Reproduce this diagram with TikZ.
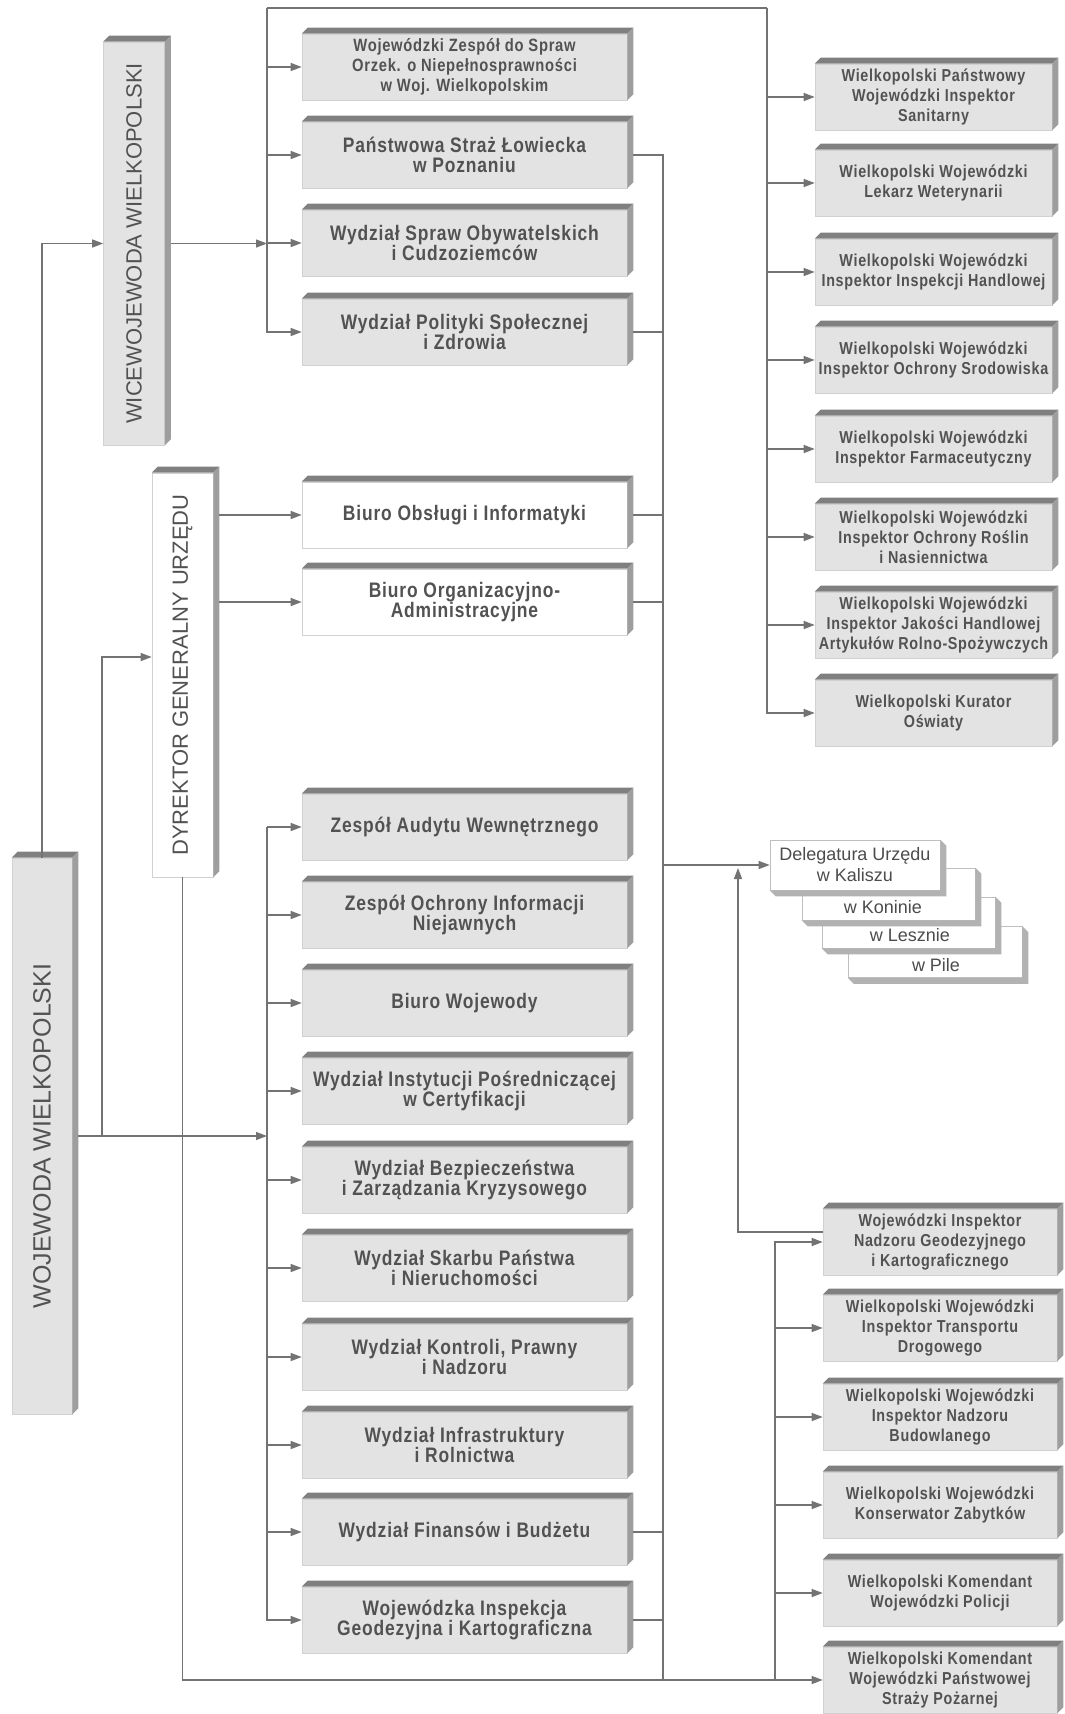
\documentclass[tikz,border=0pt]{standalone}
\usepackage{fontspec}
\setmainfont{Liberation Sans}
\newfontfamily\deptfont[FakeStretch=0.83,LetterSpace=4]{Liberation Sans}
\usepackage{graphicx}
\usepackage{tikz}
\usetikzlibrary{arrows.meta}

\definecolor{boxgray}{gray}{0.89}
\definecolor{topgray}{gray}{0.50}
\definecolor{sidegray}{gray}{0.62}
\definecolor{linegray}{gray}{0.45}
\definecolor{textgray}{gray}{0.32}

\newcommand{\Faces}[1]{%
  \fill[topgray] (#1.north west) -- ++(6pt,6pt) -- ([shift={(6pt,6pt)}]#1.north east) -- (#1.north east) -- cycle;
  \fill[sidegray] (#1.north east) -- ++(6pt,6pt) -- ([shift={(6pt,6pt)}]#1.south east) -- (#1.south east) -- cycle;}
\newcommand{\FacesLow}[1]{%
  \fill[black!30] (#1.south west) -- ++(6pt,-6pt) -- ([shift={(6pt,-6pt)}]#1.south east) -- ([shift={(6pt,-6pt)}]#1.north east) -- (#1.north east) -- (#1.south east) -- cycle;}

\tikzset{
  dept/.style={draw=black!18, line width=0.6pt, fill=boxgray, minimum width=325pt, minimum height=66pt, inner sep=0pt, align=center, text=textgray, font=\deptfont\bfseries\fontsize{21}{20}\selectfont},
  office/.style={dept, fill=white},
  insp/.style={dept, minimum width=237pt, font=\deptfont\bfseries\fontsize{17.3}{20}\selectfont},
  chief/.style={draw=black!18, line width=0.6pt, fill=boxgray, inner sep=0pt, text=textgray, minimum width=61pt, font=\fontsize{22}{22}\selectfont},
  branch/.style={draw=black!25, line width=0.6pt, fill=white, minimum width=172pt, minimum height=50pt, inner sep=0pt, align=center, text=black!70, font=\fontsize{18}{21}\selectfont},
  branchtext/.style={inner sep=0pt, text=black!70, font=\fontsize{18}{21}\selectfont},
  link/.style={draw=linegray, line width=1.3pt},
  arr/.style={link, -{Triangle[length=11pt,width=8pt]}}
}

\begin{document}
\begin{tikzpicture}[x=1pt,y=-1pt]
            \useasboundingbox (0,0) rectangle (1065,1714);
            \clip (0,0) rectangle (1065,1714);

            \node[chief, minimum height=403pt] (vice) at (134,243.5) {\rotatebox{90}{WICEWOJEWODA WIELKOPOLSKI}};
            \node[chief, fill=white, minimum height=404pt] (dyr) at (182.5,675) {\rotatebox{90}{DYREKTOR GENERALNY URZĘDU}};
            \node[chief, minimum width=60pt, minimum height=556pt, font=\fontsize{25}{25}\selectfont] (woj) at (42,1136) {\rotatebox{90}{WOJEWODA WIELKOPOLSKI}};

            \node[dept, font=\deptfont\bfseries\fontsize{17.8}{20}\selectfont] (zespol) at (464.5,67) {Wojewódzki Zespół do Spraw\\Orzek. o Niepełnosprawności\\w Woj. Wielkopolskim};
            \node[dept] (straz) at (464.5,155) {Państwowa Straż Łowiecka\\w Poznaniu};
            \node[dept] (obyw) at (464.5,243) {Wydział Spraw Obywatelskich\\i Cudzoziemców};
            \node[dept] (polityki) at (464.5,332) {Wydział Polityki Społecznej\\i Zdrowia};

            \node[office] (obslugi) at (464.5,515) {Biuro Obsługi i Informatyki};
            \node[office] (organiz) at (464.5,602) {Biuro Organizacyjno-\\Administracyjne};

            \node[dept] (audyt) at (464.5,827) {Zespół Audytu Wewnętrznego};
            \node[dept] (ochrinf) at (464.5,915) {Zespół Ochrony Informacji\\Niejawnych};
            \node[dept] (biurowoj) at (464.5,1003) {Biuro Wojewody};
            \node[dept] (instyt) at (464.5,1091) {Wydział Instytucji Pośredniczącej\\w Certyfikacji};
            \node[dept] (bezp) at (464.5,1180) {Wydział Bezpieczeństwa\\i Zarządzania Kryzysowego};
            \node[dept] (skarb) at (464.5,1268) {Wydział Skarbu Państwa\\i Nieruchomości};
            \node[dept] (kontrol) at (464.5,1357) {Wydział Kontroli, Prawny\\i Nadzoru};
            \node[dept] (infra) at (464.5,1445) {Wydział Infrastruktury\\i Rolnictwa};
            \node[dept] (finanse) at (464.5,1532) {Wydział Finansów i Budżetu};
            \node[dept] (wigk) at (464.5,1620) {Wojewódzka Inspekcja\\Geodezyjna i Kartograficzna};

            \node[insp] (sanit) at (933.5,97) {Wielkopolski Państwowy\\Wojewódzki Inspektor\\Sanitarny};
            \node[insp] (wet) at (933.5,183) {Wielkopolski Wojewódzki\\Lekarz Weterynarii};
            \node[insp] (handl) at (933.5,272) {Wielkopolski Wojewódzki\\Inspektor Inspekcji Handlowej};
            \node[insp] (srod) at (933.5,360) {Wielkopolski Wojewódzki\\Inspektor Ochrony Srodowiska};
            \node[insp] (farm) at (933.5,449) {Wielkopolski Wojewódzki\\Inspektor Farmaceutyczny};
            \node[insp] (rosl) at (933.5,537) {Wielkopolski Wojewódzki\\Inspektor Ochrony Roślin\\i Nasiennictwa};
            \node[insp] (jakosc) at (933.5,625) {Wielkopolski Wojewódzki\\Inspektor Jakości Handlowej\\Artykułów Rolno-Spożywczych};
            \node[insp] (kurator) at (933.5,713) {Wielkopolski Kurator\\Oświaty};

            \node[insp, minimum width=234pt] (geod) at (940,1242) {Wojewódzki Inspektor\\Nadzoru Geodezyjnego\\i Kartograficznego};
            \node[insp, minimum width=234pt] (transp) at (940,1328) {Wielkopolski Wojewódzki\\Inspektor Transportu\\Drogowego};
            \node[insp, minimum width=234pt] (budow) at (940,1417) {Wielkopolski Wojewódzki\\Inspektor Nadzoru\\Budowlanego};
            \node[insp, minimum width=234pt] (zabytki) at (940,1505) {Wielkopolski Wojewódzki\\Konserwator Zabytków};
            \node[insp, minimum width=234pt] (policja) at (940,1593) {Wielkopolski Komendant\\Wojewódzki Policji};
            \node[insp, minimum width=234pt] (psp) at (940,1680) {Wielkopolski Komendant\\Wojewódzki Państwowej\\Straży Pożarnej};

            \foreach \n in {vice,dyr,woj,zespol,straz,obyw,polityki,obslugi,organiz,audyt,ochrinf,biurowoj,instyt,bezp,skarb,kontrol,infra,finanse,wigk,sanit,wet,handl,srod,farm,rosl,jakosc,kurator,geod,transp,budow,zabytki,policja,psp}
              {\Faces{\n}}

            \node[branch, minimum width=174pt, minimum height=51pt] (pila) at (935,952) {};
            \FacesLow{pila}
            \node[branch, minimum width=173pt, minimum height=51pt] (leszno) at (908.5,922.5) {};
            \FacesLow{leszno}
            \node[branch, minimum width=173pt, minimum height=52pt] (konin) at (888.5,894) {};
            \FacesLow{konin}
            \node[branch, minimum width=170pt] (kalisz) at (855,865) {Delegatura Urzędu\\w Kaliszu};
            \FacesLow{kalisz}
            \node[branchtext] (konint) at (883,907) {w Koninie};
            \node[branchtext] (lesznot) at (910,935) {w Lesznie};
            \node[branchtext] (pilat) at (936,965) {w Pile};

            \coordinate (ntop) at (267,8);
            \coordinate (nright) at (767,8);
            \coordinate (nwoj) at (267,1136);
            \coordinate (ndyr) at (102,657);
            \coordinate (nmid) at (663,1680);
            \coordinate (nlow) at (775,1680);
            \coordinate (ndel) at (738,868);

            \draw[arr] (woj.north) |- (vice.west);
            \draw[arr] ([xshift=6pt]vice.east) -- (vice.east -| ntop);
            \draw[link] (ntop) -- (nright);
            \draw[arr] (ntop) |- (polityki.west);
            \draw[arr] (zespol.west -| ntop) -- (zespol.west);
            \draw[arr] (straz.west -| ntop) -- (straz.west);
            \draw[arr] (obyw.west -| ntop) -- (obyw.west);

            \draw[arr] (nright) |- (kurator.west);
            \draw[arr] (sanit.west -| nright) -- (sanit.west);
            \draw[arr] (wet.west -| nright) -- (wet.west);
            \draw[arr] (handl.west -| nright) -- (handl.west);
            \draw[arr] (srod.west -| nright) -- (srod.west);
            \draw[arr] (farm.west -| nright) -- (farm.west);
            \draw[arr] (rosl.west -| nright) -- (rosl.west);
            \draw[arr] (jakosc.west -| nright) -- (jakosc.west);

            \draw[arr] ([xshift=6pt]woj.east) -- (nwoj);
            \draw[arr] (woj.east -| ndyr) -- (ndyr) -- (ndyr -| dyr.west);
            \draw[arr] ([xshift=6pt]obslugi.west -| dyr.east) -- (obslugi.west);
            \draw[arr] ([xshift=6pt]organiz.west -| dyr.east) -- (organiz.west);

            \draw[arr] (audyt.west -| nwoj) |- (wigk.west);
            \draw[arr] (audyt.west -| nwoj) -- (audyt.west);
            \draw[arr] (ochrinf.west -| nwoj) -- (ochrinf.west);
            \draw[arr] (biurowoj.west -| nwoj) -- (biurowoj.west);
            \draw[arr] (instyt.west -| nwoj) -- (instyt.west);
            \draw[arr] (bezp.west -| nwoj) -- (bezp.west);
            \draw[arr] (skarb.west -| nwoj) -- (skarb.west);
            \draw[arr] (kontrol.west -| nwoj) -- (kontrol.west);
            \draw[arr] (infra.west -| nwoj) -- (infra.west);
            \draw[arr] (finanse.west -| nwoj) -- (finanse.west);

            \draw[link] ([xshift=6pt]straz.east) -| (nmid);
            \draw[link] ([xshift=6pt]polityki.east) -- (polityki.east -| nmid);
            \draw[link] ([xshift=6pt]obslugi.east) -- (obslugi.east -| nmid);
            \draw[link] ([xshift=6pt]organiz.east) -- (organiz.east -| nmid);
            \draw[link] ([xshift=6pt]finanse.east) -- (finanse.east -| nmid);
            \draw[link] ([xshift=6pt]wigk.east) -- (wigk.east -| nmid);
            \draw[arr] (kalisz.west -| nmid) -- (kalisz.west);

            \draw[arr] (dyr.south) |- (psp.west);
            \draw[arr] (nlow) |- (geod.west);
            \draw[arr] (transp.west -| nlow) -- (transp.west);
            \draw[arr] (budow.west -| nlow) -- (budow.west);
            \draw[arr] (zabytki.west -| nlow) -- (zabytki.west);
            \draw[arr] (policja.west -| nlow) -- (policja.west);
            \draw[arr] ([yshift=10pt]geod.west) -| (ndel);
\end{tikzpicture}
\end{document}
